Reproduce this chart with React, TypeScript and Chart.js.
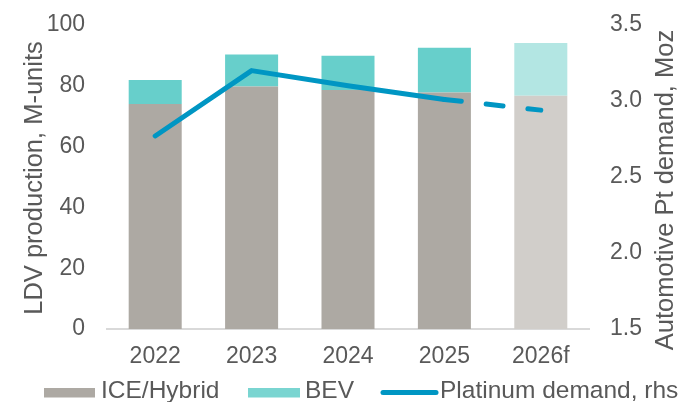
import React, { useEffect, useRef } from "react";
import { Chart, registerables } from "chart.js";

Chart.register(...registerables);

const categories = ["2022", "2023", "2024", "2025", "2026f"];
const iceValues = [74.0, 79.8, 78.6, 77.8, 76.7];
const bevValues = [7.9, 10.5, 11.3, 14.7, 17.4];
const ptDemand = [2.77, 3.2, 3.1, 3.01, 2.94];
const leftTicks = [0, 20, 40, 60, 80, 100];
const rightTicks = [1.5, 2.0, 2.5, 3.0, 3.5];

const FONT = "'Liberation Sans', Arial, sans-serif";
const TEXT = "#595959";
const ICE = "#ADA9A3";
const ICE_F = "#D1CECA";
const BEV = "#67CFCB";
const BEV_F = "#B3E6E3";
const LINE = "#0096C3";

const titlesAndLegend = {
  id: "titlesAndLegend",
  afterDraw(chart: any) {
    const ctx = chart.ctx;
    const area = chart.chartArea;
    ctx.save();
    ctx.fillStyle = TEXT;
    ctx.font = `25.5px ${FONT}`;
    ctx.textAlign = "center";
    ctx.textBaseline = "alphabetic";
    // left title
    ctx.save();
    ctx.translate(41.5, (area.top + area.bottom) / 2 + 1);
    ctx.rotate(-Math.PI / 2);
    ctx.fillText("LDV production, M-units", 0, 0);
    ctx.restore();
    // right title
    ctx.save();
    ctx.translate(673, (area.top + area.bottom) / 2 + 13);
    ctx.rotate(-Math.PI / 2);
    ctx.fillText("Automotive Pt demand, Moz", 0, 0);
    ctx.restore();

    // legend
    const ds = chart.data.datasets;
    ctx.font = `24.5px ${FONT}`;
    ctx.textAlign = "left";
    const baseY = 398;
    const midY = 392.5;
    // ICE
    ctx.fillStyle = ICE;
    ctx.fillRect(44, 388, 51, 9.5);
    ctx.fillStyle = TEXT;
    ctx.fillText(ds[0].label, 101, baseY);
    // BEV
    ctx.fillStyle = "#7AD5D1";
    ctx.fillRect(248, 388, 52, 9.5);
    ctx.fillStyle = TEXT;
    ctx.fillText(ds[1].label, 305, baseY);
    // line
    ctx.strokeStyle = LINE;
    ctx.lineWidth = 5;
    ctx.lineCap = "round";
    ctx.beginPath();
    ctx.moveTo(383, midY);
    ctx.lineTo(436, midY);
    ctx.stroke();
    ctx.fillStyle = TEXT;
    ctx.fillText(ds[2].label, 440, baseY);
    ctx.restore();
  },
};

export default function App() {
  const ref = useRef<HTMLCanvasElement | null>(null);

  useEffect(() => {
    document.body.style.margin = "0";
    const canvas = ref.current!;
    const chart = new Chart(canvas, {
      type: "bar",
      data: {
        labels: categories,
        datasets: [
          {
            type: "bar",
            label: "ICE/Hybrid",
            data: iceValues,
            backgroundColor: categories.map((_, i) => (i === 4 ? ICE_F : ICE)),
            borderWidth: 0,
            stack: "s",
            yAxisID: "y",
            order: 1,
          },
          {
            type: "bar",
            label: "BEV",
            data: bevValues,
            backgroundColor: categories.map((_, i) => (i === 4 ? BEV_F : BEV)),
            borderWidth: 0,
            stack: "s",
            yAxisID: "y",
            order: 1,
          },
          {
            type: "line",
            label: "Platinum demand, rhs",
            data: ptDemand,
            borderColor: LINE,
            borderWidth: 5,
            borderCapStyle: "round",
            borderJoinStyle: "round",
            pointRadius: 0,
            pointHoverRadius: 0,
            tension: 0,
            fill: false,
            yAxisID: "y1",
            order: 0,
            segment: {
              borderDash: (c: any) => (c.p0DataIndex >= 3 ? [17, 25] : undefined),
            },
          } as any,
        ],
      },
      options: {
        responsive: false,
        animation: false,
        devicePixelRatio: 1,
        layout: { padding: { top: 25, left: 0, right: 0, bottom: 0 } },
        plugins: {
          legend: { display: false },
          tooltip: { enabled: false },
          title: { display: false },
        },
        datasets: {
          bar: { categoryPercentage: 1, barPercentage: 0.55 },
        },
        scales: {
          x: {
            stacked: true,
            grid: { display: false, drawTicks: false },
            border: { display: true, color: "#D9D9D9", width: 2 },
            ticks: {
              color: TEXT,
              font: { family: FONT, size: 23 },
              padding: 14,
              maxRotation: 0,
            },
            afterFit: (s: any) => {
              s.height = 402 - 329 - 0;
              s.paddingLeft = 0;
              s.paddingRight = 0;
            },
          },
          y: {
            stacked: true,
            position: "left",
            min: 0,
            max: 100,
            afterBuildTicks: (s: any) => {
              s.ticks = leftTicks.map((v) => ({ value: v }));
            },
            grid: { display: false, drawTicks: false },
            border: { display: false },
            ticks: {
              color: TEXT,
              font: { family: FONT, size: 23 },
              padding: 22,
            },
            afterFit: (s: any) => {
              s.width = 107;
              s.paddingTop = 0;
              s.paddingBottom = 0;
            },
          },
          y1: {
            position: "right",
            min: 1.5,
            max: 3.5,
            afterBuildTicks: (s: any) => {
              s.ticks = rightTicks.map((v) => ({ value: v }));
            },
            grid: { display: false, drawTicks: false },
            border: { display: false },
            ticks: {
              color: TEXT,
              font: { family: FONT, size: 23 },
              padding: 21,
              callback: (v: any) => Number(v).toFixed(1),
            },
            afterFit: (s: any) => {
              s.width = 692 - 589;
              s.paddingTop = 0;
              s.paddingBottom = 0;
            },
          },
        },
      },
      plugins: [titlesAndLegend],
    });
    return () => chart.destroy();
  }, []);

  return (
    <div style={{ width: 692, height: 402 }}>
      <canvas ref={ref} width={692} height={402} style={{ display: "block" }} />
    </div>
  );
}
